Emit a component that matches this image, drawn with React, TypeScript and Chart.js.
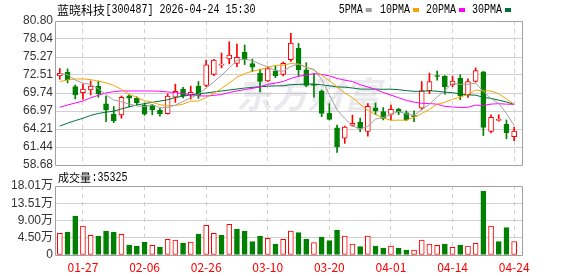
import React, { useEffect, useRef } from 'react';
import { Chart, registerables } from 'chart.js';

Chart.register(...registerables);

const stockName = '蓝晓科技';
const stockCode = '300487';
const stampText = '2026-04-24 15:30';
const volTitle = '成交量';

const dates = ['01-22','01-23','01-26','01-27','01-28','01-29','01-30','02-02','02-03','02-04','02-05','02-06','02-09','02-10','02-11','02-12','02-13','02-24','02-25','02-26','02-27','03-02','03-03','03-04','03-05','03-06','03-09','03-10','03-11','03-12','03-13','03-16','03-17','03-18','03-19','03-20','03-23','03-24','03-25','03-26','03-27','03-30','03-31','04-01','04-02','04-03','04-07','04-08','04-09','04-10','04-13','04-14','04-15','04-16','04-17','04-20','04-21','04-22','04-23','04-24'];

const opens = [72.35,72.9,70.72,69.8,70.21,70.82,68.06,66.47,66.37,69.3,68.93,67.9,67.8,67.1,66.55,69.1,70.35,69.5,70.8,70.9,72.6,74.0,74.97,74.3,76.0,74.25,72.8,71.6,73.1,72.6,74.85,76.6,73.3,71.05,70.05,66.6,64.4,62.8,64.75,65.25,63.85,67.45,66.9,66.46,67.25,66.7,66.28,67.4,70.1,72.42,72.35,70.97,72.05,69.43,71.5,73.0,63.85,65.52,64.93,63.05];
const highs = [73.5,73.45,70.97,71.13,71.59,71.59,69.28,67.65,69.28,69.5,69.17,68.2,68.0,67.4,69.6,71.1,70.6,70.8,71.5,74.8,74.9,75.9,77.6,77.25,77.1,74.95,73.4,73.8,73.9,74.5,78.9,77.35,74.4,72.6,70.2,68.1,64.8,64.65,66.35,65.9,68.1,68.2,67.5,67.9,67.4,67.0,67.0,71.5,72.8,73.1,72.4,72.35,72.55,71.9,73.6,73.05,66.4,66.4,65.6,64.45];
const lows = [71.85,71.3,68.82,68.77,69.44,69.08,65.34,65.19,65.85,67.65,67.9,66.3,66.4,66.2,66.5,68.3,69.0,68.8,68.9,70.7,72.4,73.6,74.2,73.8,74.1,73.0,69.9,71.5,72.1,72.35,74.6,72.3,70.7,69.1,66.1,65.6,60.6,62.0,64.65,63.8,63.1,66.4,65.6,65.6,66.4,65.5,65.35,67.2,69.65,71.7,69.55,70.7,68.7,69.05,71.4,63.2,63.6,65.4,62.7,62.4];
const closes = [72.77,71.8,69.44,70.36,70.82,69.59,67.13,65.44,69.08,68.95,68.2,66.5,67.15,66.55,69.25,70.0,69.3,69.85,69.35,74.05,74.8,74.2,75.58,75.22,74.9,73.7,71.5,73.5,72.4,74.3,77.4,73.3,70.9,70.9,66.6,65.7,61.5,64.5,65.1,64.3,67.7,67.0,65.85,67.23,66.8,65.6,66.12,70.1,71.48,72.28,70.7,71.58,69.3,71.48,73.17,64.45,66.0,65.68,63.65,63.9];
// volume in shares (手)
const volumes = [56600,60000,101800,75700,51300,49600,62600,60000,53900,26100,23500,33900,25200,20900,40900,39200,31300,33900,54800,77400,56600,52200,80000,67900,62600,34800,49600,43500,28700,40900,62600,58300,41800,32200,47000,37400,65300,49600,28700,21700,49600,23500,18300,23500,18300,13100,13100,39200,28700,25200,28700,20000,26100,23500,30500,167000,75700,34800,71400,35325];

const ma5Head = [72.75,72.55,71.75,71.25];
const ma10Head = [71.5,71.75,71.9,71.9,71.8,71.55,71.3,70.9,70.3];
const ma20Head = [67.54,67.9,68.2,68.5,69.0,69.4,69.75,69.95,70.05,70.05,70.05,70.05,70.05,70.0,69.9,69.8,69.65,69.45,69.3];
const ma30Head = [64.67,65.1,65.5,65.85,66.3,66.6,66.8,66.95,67.3,67.6,67.9,68.1,68.3,68.5,68.7,69.05,69.25,69.45,69.6,69.75,69.9,70.05,70.2,70.35,70.5,70.6,70.7,70.78,70.83];

const priceTickLabels = ['58.68','61.44','64.21','66.97','69.74','72.51','75.27','78.04','80.80'];
const volTickValues = [0,45025,90050,135075,180100];
const volTickLabels = ['0','4.50万','9.00万','13.51万','18.01万'];
const xTickLabels = ['01-27','02-06','02-26','03-10','03-20','04-01','04-14','04-24'];

const maNames = ['5PMA','10PMA','20PMA','30PMA'];
const maColors = ['#a0a0a0','#f5a300','#ff00ff','#00703a'];

const RED = '#ff0000';
const GREEN = '#008000';
const GRID = '#d0d0d0';
const BORDER = '#a0a0a0';

function movingAvg(n: number, head: number[]): number[] {
  return closes.map((_, i) => {
    if (i < n - 1) return head[i];
    let s = 0;
    for (let k = i - n + 1; k <= i; k++) s += closes[k];
    return s / n;
  });
}

const ma = [movingAvg(5, ma5Head), movingAvg(10, ma10Head), movingAvg(20, ma20Head), movingAvg(30, ma30Head)];
const priceTickValues = priceTickLabels.map((s) => parseFloat(s));
const xTickIdx = xTickLabels.map((d) => dates.indexOf(d));
const idx = closes.map((_, i) => i);
const candleUp = (i: number) => closes[i] >= opens[i];
const volUp = (i: number) => (i === 0 ? closes[0] >= opens[0] : closes[i] >= closes[i - 1]);

function drawMono(ctx: CanvasRenderingContext2D, text: string, x: number, y: number, color: string) {
  ctx.save();
  ctx.font = '12px "Liberation Mono"';
  ctx.fillStyle = color;
  ctx.textBaseline = 'middle';
  ctx.textAlign = 'left';
  ctx.translate(x, y);
  ctx.scale(6 / 7.2, 1);
  ctx.fillText(text, 0, 0);
  ctx.restore();
}

function drawCJK(ctx: CanvasRenderingContext2D, text: string, x: number, y: number, size: number, color: string) {
  ctx.save();
  ctx.font = `${size}px "Noto Sans CJK SC"`;
  ctx.fillStyle = color;
  ctx.textBaseline = 'middle';
  ctx.textAlign = 'left';
  ctx.fillText(text, x, y);
  ctx.restore();
}

const boxPlugin = {
  id: 'box',
  afterDraw(chart: any) {
    const { ctx, chartArea } = chart;
    const x0 = Math.round(chartArea.left) - 0.5;
    const x1 = Math.round(chartArea.right) + 0.5;
    const y0 = Math.round(chartArea.top) + 0.5;
    const y1 = Math.round(chartArea.bottom) + 0.5;
    ctx.save();
    ctx.strokeStyle = BORDER;
    ctx.lineWidth = 1;
    ctx.beginPath();
    ctx.rect(x0, y0, x1 - x0, y1 - y0);
    ctx.stroke();
    ctx.restore();
  },
};

const priceTextPlugin = {
  id: 'priceText',
  beforeDatasetsDraw(chart: any) {
    const ctx = chart.ctx as CanvasRenderingContext2D;
    ctx.save();
    ctx.font = 'italic bold 36px "Noto Sans CJK SC"';
    ctx.fillStyle = 'rgba(175,175,195,0.28)';
    ctx.textBaseline = 'middle';
    ctx.fillText('东方财富', 236, 94);
    ctx.restore();
  },
  afterDraw(chart: any) {
    const ctx = chart.ctx as CanvasRenderingContext2D;
    drawCJK(ctx, stockName, 57, 10, 12, '#000');
    drawMono(ctx, `[${stockCode}] ${stampText}`, 105.5, 10, '#000');
    const starts = [338.7, 380, 426, 472];
    maNames.forEach((n, k) => {
      const x = starts[k];
      drawMono(ctx, n, x, 10, '#000');
      const w = n.length * 6;
      ctx.fillStyle = maColors[k];
      ctx.fillRect(x + w + 3, 8, 6, 4);
    });
  },
};

const volTextPlugin = {
  id: 'volText',
  afterDraw(chart: any) {
    const ctx = chart.ctx as CanvasRenderingContext2D;
    drawCJK(ctx, volTitle, 58, 7.5, 11, '#000');
    drawMono(ctx, ':' + String(volumes[volumes.length - 1]), 91.5, 7.5, '#000');
  },
};

const xScaleBase = (showLabels: boolean) => ({
  type: 'linear' as const,
  min: -0.5,
  max: 60.02,
  offset: false,
  grid: { color: GRID, lineWidth: 1, drawTicks: false, offset: false },
  border: { display: false, dash: [4, 4] },
  afterBuildTicks: (s: any) => {
    s.ticks = xTickIdx.map((v) => ({ value: v }));
  },
  afterFit: (s: any) => {
    s.height = showLabels ? 21 : 0;
  },
  ticks: {
    display: showLabels,
    autoSkip: false,
    maxRotation: 0,
    minRotation: 0,
    padding: 5,
    color: RED,
    font: { family: '"Noto Sans CJK SC"', size: 12 },
    callback: (v: any) => dates[Math.round(Number(v))] ?? '',
  },
});

const yTickFont = { family: '"Liberation Sans", "Noto Sans CJK SC", sans-serif', size: 12 };

export default function App() {
  const priceRef = useRef<HTMLCanvasElement>(null);
  const volRef = useRef<HTMLCanvasElement>(null);

  useEffect(() => {
    const lineSets = ma.map((arr, k) => ({
      type: 'line' as const,
      label: maNames[k],
      data: arr.map((v, i) => ({ x: i, y: v })),
      borderColor: maColors[k],
      borderWidth: 1,
      pointRadius: 0,
      tension: 0,
      order: 0,
    }));

    const priceChart = new Chart(priceRef.current as HTMLCanvasElement, {
      type: 'bar',
      data: {
        datasets: [
          ...lineSets,
          {
            type: 'bar',
            label: 'body',
            data: idx.map((i) => ({ x: i, y: [opens[i], closes[i]] })),
            backgroundColor: idx.map((i) => (candleUp(i) ? '#ffffff' : GREEN)),
            borderColor: idx.map((i) => (candleUp(i) ? RED : GREEN)),
            borderWidth: 1,
            borderSkipped: false,
            barThickness: 5,
            minBarLength: 1,
            grouped: false,
            order: 1,
          },
          {
            type: 'bar',
            label: 'wick',
            data: idx.map((i) => ({ x: i, y: [lows[i], highs[i]] })),
            backgroundColor: idx.map((i) => (candleUp(i) ? RED : GREEN)),
            borderWidth: 0,
            barThickness: 1,
            grouped: false,
            order: 2,
          },
        ] as any,
      },
      options: {
        animation: false,
        responsive: false,
        maintainAspectRatio: false,
        devicePixelRatio: 1,
        events: [],
        layout: { padding: { left: 0, right: 56, top: 21, bottom: 15 } },
        plugins: { legend: { display: false }, tooltip: { enabled: false }, title: { display: false } },
        scales: {
          x: xScaleBase(false) as any,
          y: {
            type: 'linear',
            min: priceTickValues[0],
            max: priceTickValues[priceTickValues.length - 1],
            beginAtZero: false,
            grid: { color: GRID, lineWidth: 1, drawTicks: false },
            border: { display: false },
            afterBuildTicks: (s: any) => {
              s.ticks = priceTickValues.map((v) => ({ value: v }));
            },
            afterFit: (s: any) => {
              s.width = 56;
            },
            ticks: {
              autoSkip: false,
              padding: 3,
              color: '#333',
              font: yTickFont,
              callback: (_v: any, i: number) => priceTickLabels[i],
            },
          } as any,
        },
      },
      plugins: [priceTextPlugin, boxPlugin],
    });

    const volChart = new Chart(volRef.current as HTMLCanvasElement, {
      type: 'bar',
      data: {
        datasets: [
          {
            label: 'vol',
            data: idx.map((i) => ({ x: i, y: volumes[i] })),
            backgroundColor: idx.map((i) => (volUp(i) ? '#ffffff' : GREEN)),
            borderColor: idx.map((i) => (volUp(i) ? RED : GREEN)),
            borderWidth: 1,
            borderSkipped: false,
            barThickness: 5,
            grouped: false,
          },
        ] as any,
      },
      options: {
        animation: false,
        responsive: false,
        maintainAspectRatio: false,
        devicePixelRatio: 1,
        events: [],
        layout: { padding: { left: 0, right: 56, top: 16, bottom: 0 } },
        plugins: { legend: { display: false }, tooltip: { enabled: false }, title: { display: false } },
        scales: {
          x: xScaleBase(true) as any,
          y: {
            type: 'linear',
            min: volTickValues[0],
            max: volTickValues[volTickValues.length - 1],
            grid: { color: GRID, lineWidth: 1, drawTicks: false },
            border: { display: false },
            afterBuildTicks: (s: any) => {
              s.ticks = volTickValues.map((v) => ({ value: v }));
            },
            afterFit: (s: any) => {
              s.width = 56;
            },
            ticks: {
              autoSkip: false,
              padding: 3,
              color: '#333',
              font: yTickFont,
              callback: (_v: any, i: number) => volTickLabels[i],
            },
          } as any,
        },
      },
      plugins: [volTextPlugin, boxPlugin],
    });

    return () => {
      priceChart.destroy();
      volChart.destroy();
    };
  }, []);

  return (
    <div style={{ position: 'fixed', left: 0, top: 0, width: 578, height: 276, background: '#ffffff', overflow: 'hidden' }}>
      <canvas ref={priceRef} width={578} height={180} style={{ position: 'absolute', left: 0, top: 0, width: 578, height: 180 }} />
      <canvas ref={volRef} width={578} height={106} style={{ position: 'absolute', left: 0, top: 170, width: 578, height: 106 }} />
    </div>
  );
}
